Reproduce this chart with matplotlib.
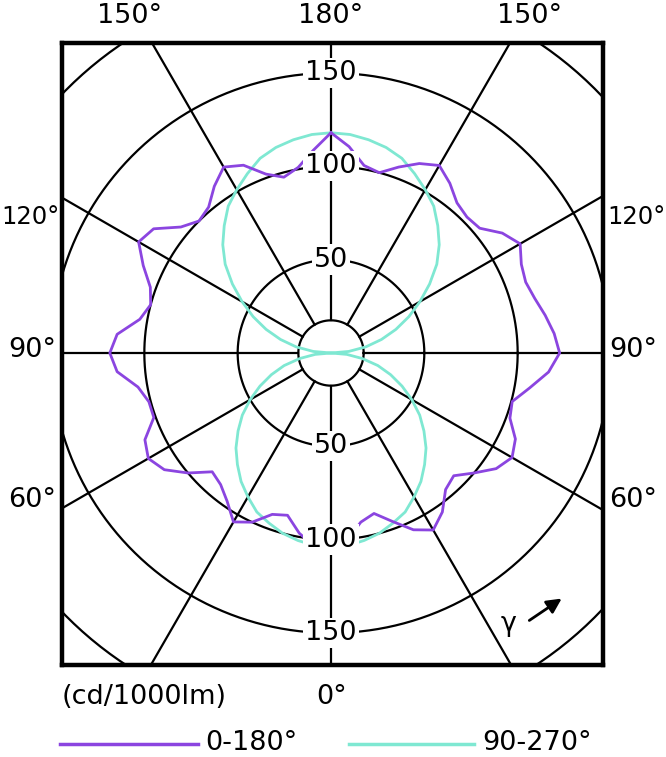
"""
Photometric polar diagram (cd/1000lm) for two C-planes.
"""

import numpy as np
import matplotlib.pyplot as plt

# gamma angles from nadir (0 = down, 180 = up), 5 degree steps
gamma = list(range(0, 185, 5))

# C0-180 plane, right half (C0) and left half (C180)
c0_right = [107, 100.5, 92, 89, 96, 104.5, 109.5, 104, 95.5, 93, 100, 108, 112,
            109, 102, 100.5, 108, 117, 122.5, 120, 116.5, 113, 111, 112.5, 117,
            112, 104, 103, 105, 111, 116, 112, 106, 100, 102, 111, 118]
c0_left = [106, 104, 98, 90, 92, 100, 104.5, 97, 92, 90, 100, 109, 113,
           110, 101, 101, 105, 115, 118.5, 115, 104, 100, 103, 111, 119,
           116, 105, 100, 102, 109, 115, 111, 102, 97.5, 101, 109, 118]

# C90-270 plane (symmetric)
c90 = [104, 103.5, 102, 100, 97, 94, 89, 84, 78, 72, 65, 58, 50, 42, 34, 26,
       17, 8.5, 0, 9.5, 19, 28, 37, 46, 55, 64.5, 74, 82, 89, 96, 101, 106,
       111, 114, 116, 117.5, 118]

rings = [50, 100, 150, 200]
ring_labels = ['50', '100', '150']
inner_ring = 17.5
spoke_angles = list(range(0, 360, 30))

purple = '#8b45e0'
cyan = '#7fe8d2'

plt.rcParams['font.family'] = 'DejaVu Sans'

W, H = 666, 757
fig = plt.figure(figsize=(W / 100, H / 100), dpi=100)

# main axes in pixel layout: frame 62..603 x 43..665, centre (331, 353)
scale = 280 / 150.0
cx, cy = 331, 353
left, right, top, bottom = 62, 603, 43, 665
ax = fig.add_axes([left / W, 1 - bottom / H, (right - left) / W, (bottom - top) / H])
ax.set_xlim((left - cx) / scale, (right - cx) / scale)
ax.set_ylim(-(bottom - cy) / scale, (cy - top) / scale)
ax.set_xticks([])
ax.set_yticks([])
for sp in ax.spines.values():
    sp.set_linewidth(3.2)
    sp.set_zorder(10)

t = np.linspace(0, 2 * np.pi, 400)
for r in rings + [inner_ring]:
    ax.plot(r * np.cos(t), r * np.sin(t), color='black', lw=1.6, zorder=2)

for a in spoke_angles:
    ar = np.radians(a)
    ax.plot([inner_ring * np.sin(ar), 400 * np.sin(ar)],
            [-inner_ring * np.cos(ar), -400 * np.cos(ar)],
            color='black', lw=1.6, zorder=2)

g = np.radians(gamma)
# C90-270 plane, mirrored both sides
r90 = np.array(c90)
ax.plot(r90 * np.sin(g), -r90 * np.cos(g), color=cyan, lw=2.0, zorder=3)
ax.plot(-r90 * np.sin(g), -r90 * np.cos(g), color=cyan, lw=2.0, zorder=3)
# C0-180 plane
rr = np.array(c0_right)
rl = np.array(c0_left)
ax.plot(rr * np.sin(g), -rr * np.cos(g), color=purple, lw=2.0, zorder=4)
ax.plot(-rl * np.sin(g), -rl * np.cos(g), color=purple, lw=2.0, zorder=4)

for r, lab in zip(rings[:3], ring_labels):
    for sgn in (1, -1):
        ax.text(0, sgn * r, lab, fontsize=19.5, ha='center', va='center',
                zorder=6, bbox=dict(facecolor='white', edgecolor='none', pad=1.5))

# overlay axes in pixel coordinates for outer labels and legend
ov = fig.add_axes([0, 0, 1, 1])
ov.set_xlim(0, W)
ov.set_ylim(H, 0)
ov.axis('off')
ov.patch.set_alpha(0)

fs = 19.5
ov.text(130, 16, '150°', fontsize=fs, ha='center', va='center')
ov.text(331, 16, '180°', fontsize=fs, ha='center', va='center')
ov.text(530, 16, '150°', fontsize=fs, ha='center', va='center')
ov.text(1, 217, '120°', fontsize=17.5, ha='left', va='center')
ov.text(607, 217, '120°', fontsize=17.5, ha='left', va='center')
for y, lab in [(350, '90°'), (500, '60°')]:
    ov.text(56, y, lab, fontsize=fs, ha='right', va='center')
    ov.text(609, y, lab, fontsize=fs, ha='left', va='center')
ov.text(332, 697, '0°', fontsize=fs, ha='center', va='center')
ov.text(62, 697, '(cd/1000lm)', fontsize=fs, ha='left', va='center')

# legend
ov.plot([60, 198], [744, 744], color=purple, lw=2.5)
ov.text(205, 743, '0-180°', fontsize=fs, ha='left', va='center')
ov.plot([349, 474], [744, 744], color=cyan, lw=2.5)
ov.text(482, 743, '90-270°', fontsize=fs, ha='left', va='center')

# gamma direction marker
ov.text(509, 624, 'γ', fontsize=fs, ha='center', va='center')
ov.annotate('', xy=(564, 597), xytext=(527, 622),
            arrowprops=dict(arrowstyle='-|>', color='black', lw=2,
                            mutation_scale=22))

fig.savefig('out.png', dpi=100, facecolor='white')
